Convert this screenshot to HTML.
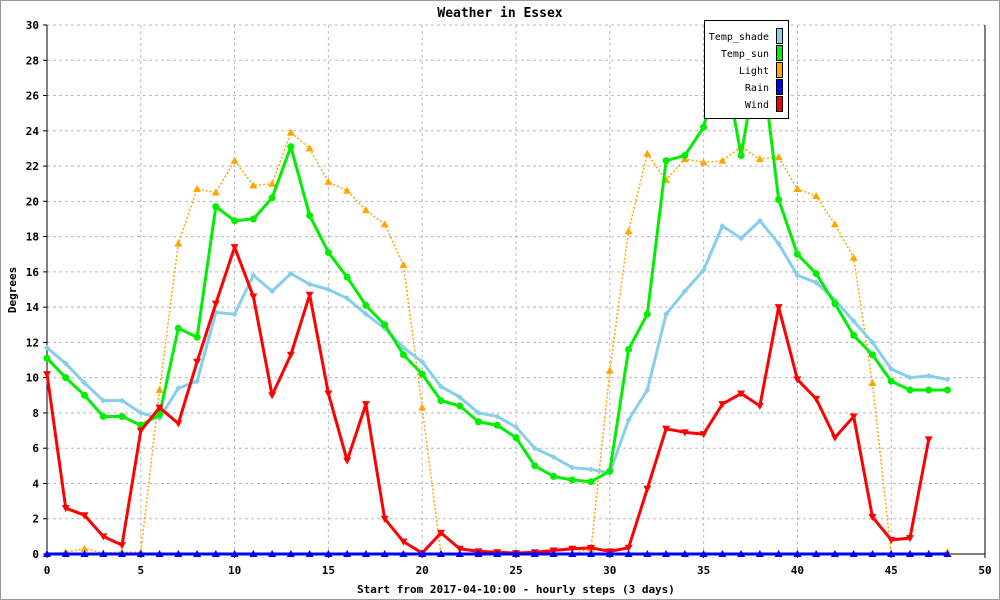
<!DOCTYPE html>
<html><head><meta charset="utf-8"><style>
body{margin:0;background:#fff}
svg{display:block;font-family:"DejaVu Sans Mono","Liberation Mono",monospace}
</style></head><body>
<svg id="c" width="1000" height="600">
<rect x="0.5" y="0.5" width="999" height="599" fill="#fff" stroke="#999"/>
<text x="500" y="17" text-anchor="middle" font-size="13" font-weight="bold">Weather in Essex</text>
<g id="grid"></g>
<g id="axes"></g>
<g id="series"></g>
<text x="516" y="593" text-anchor="middle" font-size="11" font-weight="bold">Start from 2017-04-10:00 - hourly steps (3 days)</text>
<text transform="translate(16,290) rotate(-90)" text-anchor="middle" font-size="11" font-weight="bold">Degrees</text>
<g id="legend"></g>
</svg>
<script>
const xTicks=[0,5,10,15,20,25,30,35,40,45,50];
const yTicks=[0,2,4,6,8,10,12,14,16,18,20,22,24,26,28,30];
const seriesNames=["Temp_shade","Temp_sun","Light","Rain","Wind"];
const tempShade=[11.7,10.8,9.7,8.7,8.7,8.0,7.7,9.4,9.8,13.7,13.6,15.8,14.9,15.9,15.3,15.0,14.5,13.6,12.8,11.7,10.9,9.5,8.9,8.0,7.8,7.2,6.0,5.5,4.9,4.8,4.6,7.6,9.3,13.6,14.9,16.1,18.6,17.9,18.9,17.6,15.8,15.4,14.4,13.2,12.0,10.5,10.0,10.1,9.9];
const tempSun=[11.1,10.0,9.0,7.8,7.8,7.3,7.9,12.8,12.3,19.7,18.9,19.0,20.2,23.1,19.2,17.1,15.7,14.1,13.0,11.3,10.2,8.7,8.4,7.5,7.3,6.6,5.0,4.4,4.2,4.1,4.7,11.6,13.6,22.3,22.6,24.2,28.5,22.6,28.8,20.1,17.0,15.9,14.2,12.4,11.3,9.8,9.3,9.3,9.3];
const light=[0,0.1,0.3,0.05,0.1,0.1,9.3,17.6,20.7,20.5,22.3,20.9,21.0,23.9,23.0,21.1,20.6,19.5,18.7,16.4,8.3,0,0,0,0,0,0,0,0,0.3,10.4,18.3,22.7,21.2,22.4,22.2,22.3,23.1,22.4,22.5,20.7,20.3,18.7,16.8,9.7,0,0,0,0.1];
const rain=[0,0,0,0,0,0,0,0,0,0,0,0,0,0,0,0,0,0,0,0,0,0,0,0,0,0,0,0,0,0,0,0,0,0,0,0,0,0,0,0,0,0,0,0,0,0,0,0,0];
const wind=[10.2,2.6,2.2,1.0,0.5,7.0,8.3,7.4,10.9,14.2,17.4,14.6,9.0,11.3,14.7,9.1,5.3,8.5,2.0,0.7,0.05,1.2,0.3,0.15,0.1,0.05,0.1,0.2,0.3,0.35,0.15,0.35,3.7,7.1,6.9,6.8,8.5,9.1,8.4,14.0,9.9,8.8,6.6,7.8,2.1,0.8,0.9,6.5];
const X0=47,X1=985,Y0=554,Y1=25;
const xs=v=>X0+(X1-X0)*v/50, ys=v=>Y0-(Y0-Y1)*v/30;
const NS="http://www.w3.org/2000/svg";
function mk(tag,attrs,parent){const e=document.createElementNS(NS,tag);for(const k in attrs)e.setAttribute(k,attrs[k]);parent.appendChild(e);return e;}
const grid=document.getElementById('grid'),axes=document.getElementById('axes'),ser=document.getElementById('series'),leg=document.getElementById('legend');
xTicks.forEach(t=>{const x=xs(t);
 if(t>0&&t<50){const l=mk('line',{x1:x,y1:Y1,x2:x,y2:Y0,stroke:'#bbb','stroke-dasharray':'3,3'},grid);}
 const tx=mk('text',{x:x,y:Y0+20,'text-anchor':'middle','font-size':'11','font-weight':'bold'},axes);tx.textContent=t;
 
 mk('line',{x1:x,y1:Y0,x2:x,y2:Y0+4,stroke:'#000'},axes);});
yTicks.forEach(t=>{const y=ys(t);
 if(t>0){const l=mk('line',{x1:X0,y1:y,x2:X1,y2:y,stroke:'#bbb','stroke-dasharray':'3,3'},grid);}
 const tx=mk('text',{x:X0-8,y:y+4,'text-anchor':'end','font-size':'11','font-weight':'bold'},axes);tx.textContent=t;
 
 mk('line',{x1:X0-4,y1:y,x2:X0,y2:y,stroke:'#000'},axes);});
mk('line',{x1:X0,y1:Y1,x2:X0,y2:Y0,stroke:'#000'},axes);
mk('line',{x1:X0,y1:Y0,x2:X1,y2:Y0,stroke:'#000'},axes);
mk('line',{x1:X1,y1:Y1,x2:X1,y2:Y0,stroke:'#000'},axes);
function marker(type,x,y,col,g){
 let e;
 if(type==='circle')e=mk('circle',{cx:x,cy:y,r:3.5,fill:col},g);
 else if(type==='diamond')e=mk('polygon',{points:`${x},${y-3} ${x+3},${y} ${x},${y+3} ${x-3},${y}`,fill:col},g);
 else if(type==='up')e=mk('polygon',{points:`${x},${y-4} ${x+4},${y+3} ${x-4},${y+3}`,fill:col},g);
 else e=mk('polygon',{points:`${x-4},${y-3} ${x+4},${y-3} ${x},${y+4}`,fill:col},g);
 
}
function draw(arr,col,w,dash,mtype,name){
 const g=mk('g',{},ser);
 const p=mk('polyline',{points:arr.map((v,i)=>xs(i)+','+ys(v)).join(' '),fill:'none',stroke:col,'stroke-width':w,'stroke-linejoin':'round'},g);
 if(dash)p.setAttribute('stroke-dasharray',dash);
 
 arr.forEach((v,i)=>marker(mtype,xs(i),ys(v),col,g));
}
draw(light,'#ffa500',1.5,'2,2','up','light');
draw(tempShade,'#87ceeb',3,null,'diamond','temp-shade');
draw(tempSun,'#00ee00',3,null,'circle','temp-sun');
draw(wind,'#ff0000',3,null,'down','wind');
draw(rain,'#0000ff',3,null,'up','rain');
const lb=mk('rect',{x:704.5,y:20.5,width:84,height:98,fill:'#fff',stroke:'#000'},leg);

const cols=['#87ceeb','#00ee00','#ffa500','#0000ff','#ff0000'];
seriesNames.forEach((n,i)=>{const y=36+i*17;
 const t=mk('text',{x:769,y:y+4,'text-anchor':'end','font-size':'10'},leg);t.textContent=n;
 
 const s=mk('rect',{x:776.5,y:y-7.5,width:6,height:15,fill:cols[i],stroke:'#000'},leg);
 });
</script>
</body></html>
